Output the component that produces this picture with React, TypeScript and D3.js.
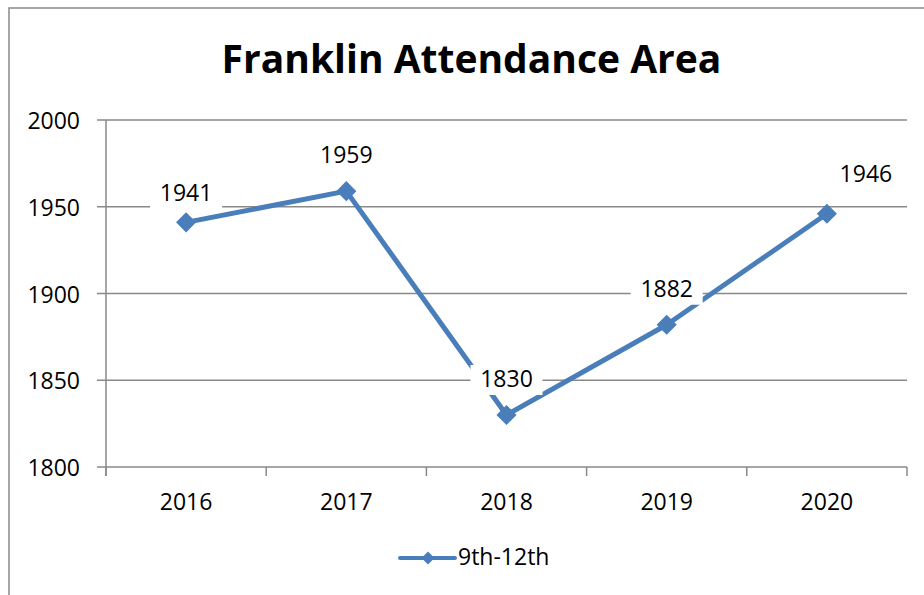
import React from 'react';
import * as d3 from 'd3';

// chart data
const years = ['2016', '2017', '2018', '2019', '2020'];
const students = [1941, 1959, 1830, 1882, 1946];
const yTicks = [1800, 1850, 1900, 1950, 2000];
const seriesName = '9th-12th';
const chartTitle = 'Franklin Attendance Area';

// Excel moved some labels by hand, nudge them the same way
const labelNudge = [
  [0, -21],
  [0, -28],
  [0, -28],
  [0, -28],
  [39, -32],
];

const W = 924,
  H = 595;
const plot = { left: 106, right: 907, top: 120, bottom: 467 };
const blue = '#4a7ebb';
const gray = '#898989';
const font = '"Open Sans", "Noto Sans", sans-serif';

const diamond = (r: number) => `M0,${-r}L${r},0L0,${r}L${-r},0Z`;

export default function App() {
  const x = d3.scaleBand().domain(years).range([plot.left, plot.right]).padding(0);
  const y = d3.scaleLinear().domain([1800, 2000]).range([plot.bottom, plot.top]);
  const cx = (d: string) => (x(d) as number) + x.bandwidth() / 2;

  const line = d3
    .line<number>()
    .x((_, i) => cx(years[i]))
    .y((v) => y(v));

  // x-axis tick marks sit on the band edges
  const xEdges = years.map((d) => x(d) as number).concat([plot.right]);

  return (
    <svg
      width={W}
      height={H}
      style={{ position: 'fixed', left: 0, top: 0, background: '#fff' }}
      fontFamily={font}
    >
      <rect x={9} y={8} width={W + 20} height={H + 20} fill="#fff" stroke={gray} strokeWidth={1.5} />

      <text x={471.5} y={73} textAnchor="middle" fontSize={39} fontWeight="bold" fill="#000">
        {chartTitle}
      </text>

      {/* gridlines + y axis ticks */}
      {yTicks.map((t) => (
        <g key={t}>
          <line x1={97} x2={plot.right} y1={y(t)} y2={y(t)} stroke={gray} strokeWidth={1.5} />
          <text x={80} y={y(t) + 9} textAnchor="end" fontSize={23} fill="#000">
            {t}
          </text>
        </g>
      ))}
      <line x1={plot.left} x2={plot.left} y1={plot.top} y2={plot.bottom + 9} stroke={gray} strokeWidth={1.5} />
      {xEdges.map((e, i) => (
        <line key={i} x1={e} x2={e} y1={plot.bottom} y2={plot.bottom + 9} stroke={gray} strokeWidth={1.5} />
      ))}
      {years.map((d) => (
        <text key={d} x={cx(d)} y={510} textAnchor="middle" fontSize={23} fill="#000">
          {d}
        </text>
      ))}

      {/* series */}
      <path d={line(students) || ''} fill="none" stroke={blue} strokeWidth={5} strokeLinejoin="round" />
      {students.map((v, i) => (
        <path key={i} d={diamond(9)} transform={`translate(${cx(years[i])},${y(v)})`} fill={blue} stroke={blue} strokeWidth={1.5} />
      ))}

      {/* data labels with white boxes */}
      {students.map((v, i) => {
        const lx = cx(years[i]) + labelNudge[i][0];
        const ly = y(v) + labelNudge[i][1];
        return (
          <g key={i}>
            <rect x={lx - 36} y={ly - 22} width={72} height={30} fill="#fff" />
            <text x={lx} y={ly} textAnchor="middle" fontSize={23} fill="#000">
              {v}
            </text>
          </g>
        );
      })}

      {/* legend */}
      <line x1={400} x2={455} y1={558} y2={558} stroke={blue} strokeWidth={4} strokeLinecap="round" />
      <path d={diamond(6.5)} transform="translate(428,558)" fill={blue} />
      <text x={458} y={565} fontSize={23} fill="#000">
        {seriesName}
      </text>
    </svg>
  );
}
